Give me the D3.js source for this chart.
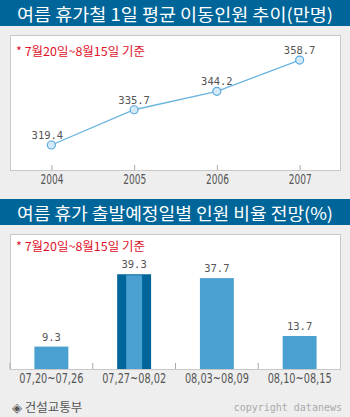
<!DOCTYPE html>
<html><head><meta charset="utf-8">
<script src="https://cdn.jsdelivr.net/npm/d3@7"></script>
<style>
html,body{margin:0;padding:0;background:#eeeeee;}
svg{display:block;}
</style></head>
<body>
<script>
const title1 = "여름 휴가철 1일 평균 이동인원 추이(만명)";
const title2 = "여름 휴가 출발예정일별 인원 비율 전망(%)";
const noteText = "* 7월20일~8월15일 기준";
const years = ["2004", "2005", "2006", "2007"];
const movers = [319.4, 335.7, 344.2, 358.7];
const periods = ["07,20~07,26", "07,27~08,02", "08,03~08,09", "08,10~08,15"];
const shares = [9.3, 39.3, 37.7, 13.7];
const highlightPeriod = "07,27~08,02";
const sourceText = "◈ 건설교통부";
const copyText = "copyright datanews";

const W = 350, H = 417;
const svg = d3.select("body").append("svg").attr("width", W).attr("height", H);
svg.append("rect").attr("width", W).attr("height", H).attr("fill", "#eeeeee");

const dark = "#006699", light = "#4aa0d0", red = "#e0102a";
const korean = "'Noto Sans CJK KR', sans-serif";
const narrow = "'Liberation Sans Narrow', 'DejaVu Sans Condensed', 'Roboto', sans-serif";
const mono = "'DejaVu Sans Mono', monospace";

function titleBar(y, text) {
  svg.append("rect").attr("x", 0).attr("y", y).attr("width", W).attr("height", 26).attr("fill", dark);
  svg.append("text").attr("x", 175).attr("y", y + 13).attr("text-anchor", "middle")
    .attr("dominant-baseline", "central").attr("fill", "#fff")
    .attr("font-family", korean).attr("font-size", 17).attr("font-weight", 400)
    .attr("textLength", 316).attr("lengthAdjust", "spacingAndGlyphs").text(text);
}
function panel(y0, y1) {
  svg.append("rect").attr("x", 10.5).attr("y", y0 + 0.5).attr("width", 330).attr("height", y1 - y0)
    .attr("fill", "#fff").attr("stroke", "#c8c8c8").attr("stroke-width", 1);
}
function note(y) {
  svg.append("text").attr("x", 16).attr("y", y).attr("dominant-baseline", "central")
    .attr("fill", red).attr("font-family", korean).attr("font-size", 12)
    .attr("textLength", 129).attr("lengthAdjust", "spacingAndGlyphs").text(noteText);
}

// ---------- Chart 1: line ----------
titleBar(0, title1);
const p1Top = 35, p1Bot = 170;
panel(p1Top, p1Bot);
note(50);

const x1 = d3.scalePoint().domain(years).range([10, 341]).padding(0.5);
const y1 = d3.scaleLinear().domain([310, 370]).range([165.3, 35.6]);

const ax1 = svg.append("g").attr("transform", `translate(0,${p1Bot})`)
  .call(d3.axisBottom(x1).tickSize(-5).tickSizeOuter(0).tickPadding(4));
ax1.select(".domain").remove();
ax1.selectAll("line").attr("stroke", "#aaaaaa");
ax1.selectAll("text").attr("fill", "#555").attr("font-family", narrow).attr("font-size", 14)
  .attr("textLength", 23).attr("lengthAdjust", "spacingAndGlyphs");

const lineData = years.map((yr, i) => ({yr, v: movers[i]}));
svg.append("path").datum(lineData)
  .attr("fill", "none").attr("stroke", "#6ab4e0").attr("stroke-width", 1.3)
  .attr("d", d3.line().x(d => x1(d.yr)).y(d => y1(d.v)));
svg.selectAll(".pt").data(lineData).enter().append("circle")
  .attr("cx", d => x1(d.yr)).attr("cy", d => y1(d.v)).attr("r", 4)
  .attr("fill", "#d4eaf8").attr("stroke", "#5aaade").attr("stroke-width", 1.2);
svg.selectAll(".lv").data(lineData).enter().append("text")
  .attr("x", (d, i) => x1(d.yr) - (i === 0 ? 4 : 0)).attr("y", d => y1(d.v) - 10)
  .attr("text-anchor", "middle").attr("dominant-baseline", "central")
  .attr("fill", "#555").attr("font-family", mono).attr("font-size", 10.5)
  .text(d => d.v.toFixed(1));

// ---------- Chart 2: bars ----------
titleBar(199, title2);
const p2Top = 234, p2Bot = 369;
panel(p2Top, p2Bot);
note(245);

const x2 = d3.scaleBand().domain(periods).range([10, 341]).padding(0);
const y2 = d3.scaleLinear().domain([0, 56]).range([p2Bot, p2Top]);
const bw = x2.bandwidth() * 0.41;

const ax2 = svg.append("g").attr("transform", `translate(0,${p2Bot})`)
  .call(d3.axisBottom(x2).tickSize(-6).tickSizeOuter(0).tickPadding(4));
ax2.select(".domain").remove();
ax2.selectAll("line").attr("stroke", "#aaaaaa").attr("x1", -x2.bandwidth() / 2).attr("x2", -x2.bandwidth() / 2);
ax2.selectAll("text").attr("fill", "#555").attr("font-family", narrow).attr("font-size", 14)
  .attr("textLength", 64).attr("lengthAdjust", "spacingAndGlyphs");

const barData = periods.map((p, i) => ({p, v: shares[i]}));
const bars = svg.append("g");
barData.forEach(d => {
  const cx = x2(d.p) + x2.bandwidth() / 2;
  const top = y2(d.v);
  if (d.p === highlightPeriod) {
    bars.append("rect").attr("x", cx - bw / 2).attr("y", top).attr("width", bw).attr("height", p2Bot - top).attr("fill", dark);
    bars.append("rect").attr("x", cx - bw / 2 + 9).attr("y", top + 1).attr("width", bw - 18).attr("height", p2Bot - top - 1).attr("fill", light);
  } else {
    bars.append("rect").attr("x", cx - bw / 2).attr("y", top).attr("width", bw).attr("height", p2Bot - top).attr("fill", light);
  }
  svg.append("text").attr("x", cx).attr("y", top - 10).attr("text-anchor", "middle")
    .attr("dominant-baseline", "central").attr("fill", "#555")
    .attr("font-family", mono).attr("font-size", 10.5).text(d.v.toFixed(1));
});

// ---------- footer ----------
svg.append("text").attr("x", 12).attr("y", 406).attr("dominant-baseline", "central")
  .attr("fill", "#555").attr("font-family", korean).attr("font-size", 12.5).text(sourceText);
svg.append("text").attr("x", 342).attr("y", 407).attr("text-anchor", "end").attr("dominant-baseline", "central")
  .attr("fill", "#aaaaaa").attr("font-family", mono).attr("font-size", 10).text(copyText);
</script>
</body></html>
